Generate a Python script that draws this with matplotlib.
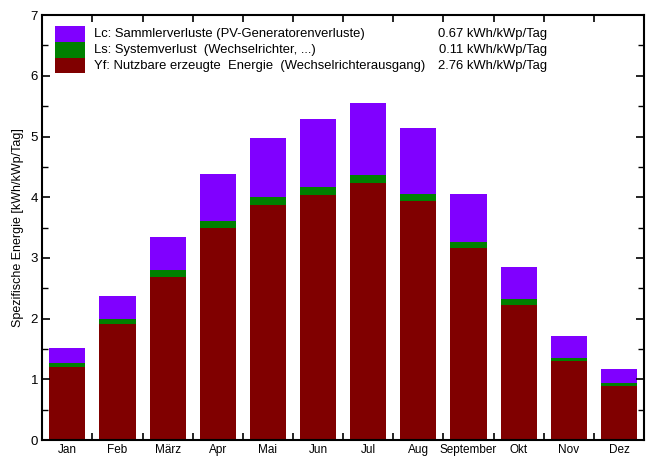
import matplotlib
matplotlib.use("Agg")
import matplotlib.pyplot as plt
import numpy as np
from matplotlib.patches import Rectangle

plt.rcParams['font.family'] = ['Liberation Sans', 'DejaVu Sans']

months = ["Jan", "Feb", "März", "Apr", "Mai", "Jun", "Jul", "Aug",
          "September", "Okt", "Nov", "Dez"]
# Specific energy per month [kWh/kWp/Tag]
yf = [1.20, 1.91, 2.69, 3.50, 3.87, 4.03, 4.23, 3.93, 3.16, 2.23, 1.30, 0.89]
ls = [0.07, 0.08, 0.11, 0.11, 0.13, 0.14, 0.14, 0.13, 0.11, 0.09, 0.06, 0.05]
lc = [0.25, 0.39, 0.55, 0.78, 0.98, 1.12, 1.19, 1.08, 0.78, 0.53, 0.35, 0.23]

legend_labels = ["Lc: Sammlerverluste (PV-Generatorenverluste)",
                 "Ls: Systemverlust  (Wechselrichter, ...)",
                 "Yf: Nutzbare erzeugte  Energie  (Wechselrichterausgang)"]
legend_values = ["0.67 kWh/kWp/Tag", "0.11 kWh/kWp/Tag", "2.76 kWh/kWp/Tag"]

c_lc = "#8000ff"
c_ls = "#008000"
c_yf = "#800000"

fig = plt.figure(figsize=(6.46, 4.57), dpi=100)
ax = fig.add_axes([0.0655, 0.037, 0.9315, 0.930])

x = np.arange(1, len(months) + 1)
w = 0.72
yf_a = np.array(yf)
ls_a = np.array(ls)
lc_a = np.array(lc)
ax.bar(x, yf_a, width=w, color=c_yf, linewidth=0)
ax.bar(x, ls_a, width=w, bottom=yf_a, color=c_ls, linewidth=0)
ax.bar(x, lc_a, width=w, bottom=yf_a + ls_a, color=c_lc, linewidth=0)

ax.set_xlim(0.5, len(months) + 0.5)
ax.set_ylim(0, 7)

ax.set_xticks(x)
ax.set_xticklabels(months, fontsize=8.5)
ax.tick_params(axis='x', which='major', length=0, pad=3)
ax.set_xticks(np.arange(1.5, len(months), 1.0), minor=True)
ax.tick_params(axis='x', which='minor', direction='in', length=5,
               width=1.2, top=True, bottom=True)

ax.set_yticks(np.arange(0, 8, 1))
ax.set_yticklabels([str(v) for v in range(8)], fontsize=9.5)
ax.set_yticks(np.arange(0.5, 7, 1.0), minor=True)
ax.tick_params(axis='y', which='major', direction='in', length=6,
               width=1.2, left=True, right=True, pad=3)
ax.tick_params(axis='y', which='minor', direction='in', length=4,
               width=1.0, left=True, right=True)

for s in ax.spines.values():
    s.set_linewidth(1.5)

ax.set_ylabel("Spezifische Energie [kWh/kWp/Tag]", fontsize=9, labelpad=5)

# legend block
colors = [c_lc, c_ls, c_yf]
row = 15.8 / 425
y_top = 1 - (26 - 15) / 425
for i, (lab, val, col) in enumerate(zip(legend_labels, legend_values, colors)):
    y0 = y_top - (i + 1) * row
    ax.add_patch(Rectangle((13 / 602, y0), 30 / 602, row,
                           transform=ax.transAxes, color=col, lw=0,
                           clip_on=False))
    yc = y0 + 0.5 * row
    ax.text(52 / 602, yc, lab, transform=ax.transAxes, fontsize=9.4,
            va='center', ha='left')
    ax.text(505 / 602, yc, val, transform=ax.transAxes, fontsize=9.4,
            va='center', ha='right')

fig.savefig("out.png", dpi=100)
